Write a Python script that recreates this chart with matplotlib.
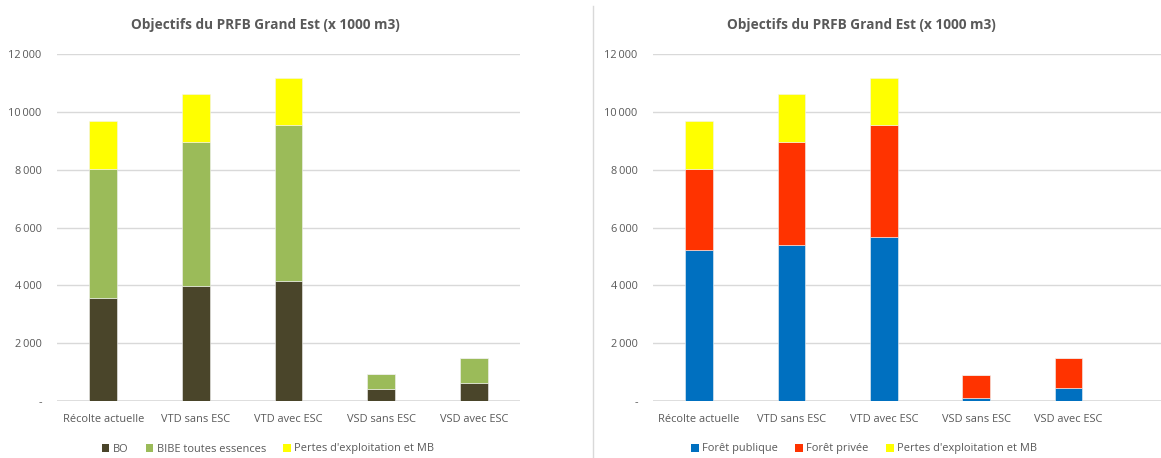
import numpy as np
import matplotlib.pyplot as plt
from matplotlib.patches import Patch
from matplotlib.lines import Line2D

plt.rcParams['font.family'] = ['Open Sans', 'DejaVu Sans']

categories = ['Récolte actuelle', 'VTD sans ESC', 'VTD avec ESC', 'VSD sans ESC', 'VSD avec ESC']

# graphique de gauche (x 1000 m3)
bo = [3560, 3960, 4160, 420, 610]
bibe = [4470, 5010, 5390, 520, 860]
pertes_g = [1640, 1660, 1620, 0, 0]

# graphique de droite
foret_publique = [5230, 5390, 5670, 90, 440]
foret_privee = [2800, 3580, 3860, 820, 1060]
pertes_d = [1670, 1660, 1640, 0, 0]

titre = 'Objectifs du PRFB Grand Est (x 1000 m3)'
W, H = 1161, 458

def fmt(v, pos):
    if v == 0:
        return '-'
    return '{:,.0f}'.format(v).replace(',', '\u2009')

def panneau(x0, x1, series, couleurs, noms, xmax, titre_x, leg_x):
    ax = fig.add_axes([x0 / W, (H - 401) / H, (x1 - x0) / W, (401 - 54) / H])
    x = np.arange(len(categories))
    bas = np.zeros(len(categories))
    for vals, c in zip(series, couleurs):
        ax.bar(x, vals, 0.3, bottom=bas, color=c, edgecolor='#f2f2f2', linewidth=0.4, zorder=3)
        bas = bas + np.array(vals)
    ax.set_ylim(0, 12000)
    ax.set_xlim(-0.5, xmax)
    ax.set_yticks(range(0, 12001, 2000))
    ax.yaxis.set_major_formatter(plt.FuncFormatter(fmt))
    ax.set_xticks(x)
    ax.set_xticklabels(categories)
    ax.grid(axis='y', color='#d9d9d9', linewidth=1, zorder=0)
    for s in ax.spines.values():
        s.set_visible(False)
    ax.axhline(0, color='#d9d9d9', linewidth=1.2, zorder=2)
    ax.tick_params(length=0, labelsize=7.9, labelcolor='#595959')
    ax.tick_params(axis='y', pad=11)
    ax.tick_params(axis='x', pad=9)
    fig.text(titre_x / W, 1 - 25 / H, titre, ha='center', va='center',
             fontsize=9.8, fontweight='bold', color='#595959')
    poignees = [Patch(facecolor=c) for c in couleurs]
    fig.legend(poignees, noms, loc='center', bbox_to_anchor=(leg_x / W, 1 - 449 / H),
               ncol=3, frameon=False, fontsize=7.9, labelcolor='#595959',
               handlelength=0.7, handleheight=0.7, handletextpad=0.3, columnspacing=1.6)
    return ax

fig = plt.figure(figsize=(W / 100, H / 100), dpi=100)

panneau(57, 520, [bo, bibe, pertes_g], ['#4a452a', '#9bbb59', '#ffff00'],
        ['BO', 'BIBE toutes essences', "Pertes d'exploitation et MB"], 4.5, 265, 268)
panneau(653, 1161, [foret_publique, foret_privee, pertes_d], ['#0070c0', '#ff3300', '#ffff00'],
        ['Forêt publique', 'Forêt privée', "Pertes d'exploitation et MB"], 5.0, 861, 864)

fig.add_artist(Line2D([593 / W, 593 / W], [0, 1 - 6 / H], color='#d9d9d9', linewidth=1))

fig.savefig('out.png', dpi=100)
